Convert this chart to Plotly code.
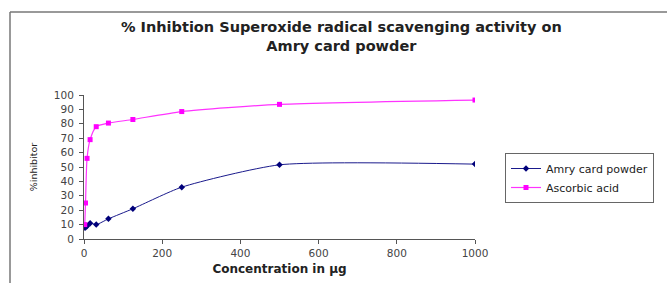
import plotly.graph_objects as go

conc_amry = [1.95, 3.9, 7.8, 15.6, 31.25, 62.5, 125, 250, 500, 1000]
amry = [8, 8, 9, 11, 10, 14, 21, 36, 51.5, 52]
conc_asc = [1.95, 3.9, 7.8, 15.6, 31.25, 62.5, 125, 250, 500, 1000]
asc = [10, 25, 56, 69, 78, 80.5, 83, 88.5, 93.5, 96.5]

x_ticks = [0, 200, 400, 600, 800, 1000]
y_ticks = list(range(0, 101, 10))

fig = go.Figure()
fig.add_trace(go.Scatter(x=conc_amry, y=amry, name="Amry card powder",
                         mode="lines+markers", line=dict(color="#1a1a8c", width=1, shape="spline", smoothing=0.6),
                         marker=dict(symbol="diamond", size=5, color="#00007a")))
fig.add_trace(go.Scatter(x=conc_asc, y=asc, name="Ascorbic acid",
                         mode="lines+markers", line=dict(color="#ff33ff", width=1.2, shape="spline", smoothing=0.6),
                         marker=dict(symbol="square", size=5, color="#ff00ff")))

L, R, T, B = 84, 475, 95, 239
W, H = 667, 283
pw, ph = R - L, B - T

def px(x):
    return (x - L) / pw

def py(y):
    return (B - y) / ph

fig.update_layout(
    width=W, height=H,
    margin=dict(l=L, r=W - R, t=T, b=H - B, autoexpand=False),
    paper_bgcolor="white", plot_bgcolor="white",
    font=dict(family="DejaVu Sans", color="#333333", size=9),
    showlegend=True,
    legend=dict(x=px(505), y=py(153), xanchor="left", yanchor="top",
                bordercolor="#666666", borderwidth=1, font=dict(size=11, color="#222222"),
                tracegroupgap=0, itemwidth=30),
    xaxis=dict(range=[0, 1000], tickvals=x_ticks, showgrid=False, zeroline=False,
               showline=True, linecolor="#555555", linewidth=1, ticks="outside", automargin=False,
               ticklen=4, tickcolor="#555555", tickfont=dict(size=10.5, color="#444444"),
               title=dict(text="<b>Concentration in µg</b>", font=dict(size=12, color="#222222"), standoff=7)),
    yaxis=dict(range=[0, 100], tickvals=y_ticks, showgrid=False, zeroline=False,
               showline=True, linecolor="#555555", linewidth=1, ticks="outside", automargin=False,
               ticklen=4, tickcolor="#555555", tickfont=dict(size=10.5, color="#444444"),
               ticklabelstandoff=3,
               title=dict(text="%inhibitor", font=dict(size=9.5, color="#222222"), standoff=14)),
    shapes=[
        dict(type="line", xref="paper", yref="paper", x0=px(10), y0=py(12), x1=px(667), y1=py(12),
             line=dict(color="#777777", width=1.5)),
        dict(type="line", xref="paper", yref="paper", x0=px(10), y0=py(12), x1=px(10), y1=py(283),
             line=dict(color="#777777", width=1.5)),
    ],
    annotations=[
        dict(text="<b>% Inhibtion Superoxide radical scavenging activity on<br>Amry card powder</b>",
             xref="paper", yref="paper", x=px(341), y=py(17), xanchor="center", yanchor="top",
             showarrow=False, font=dict(size=14.5, color="#222222")),
    ],
)

fig.write_html("out.html", post_script="document.body.style.margin='0';",
               config={"displayModeBar": False})
